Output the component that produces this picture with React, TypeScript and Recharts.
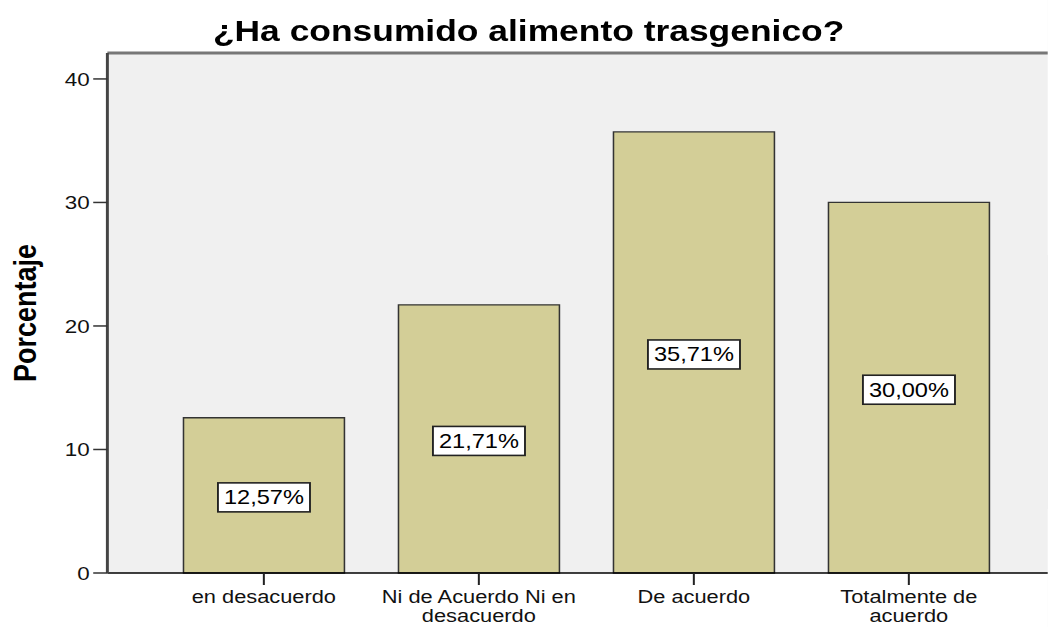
import React from 'react';
import { Bar, BarChart, CartesianGrid, LabelList, XAxis, YAxis } from 'recharts';

const categories = ['en desacuerdo', 'Ni de Acuerdo Ni en desacuerdo', 'De acuerdo', 'Totalmente de acuerdo'];
const tickLines = [['en desacuerdo'], ['Ni de Acuerdo Ni en', 'desacuerdo'], ['De acuerdo'], ['Totalmente de', 'acuerdo']];
const percentages = [12.57, 21.71, 35.71, 30.0];
const yTicks = [0, 10, 20, 30, 40];

const data = categories.map((name, i) => ({ name, value: percentages[i] }));

// the reference is stretched sideways, so draw narrower and scale the whole thing
const STRETCH = 1.18;
const W = 888;
const H = 627;
const FONT = '"Liberation Sans", Arial, sans-serif';

const CategoryTick = (props: any) => {
    const { x, y, payload } = props;
    const lines = tickLines[categories.indexOf(payload.value)] || [payload.value];
    return (
        <text x={x} y={y} textAnchor="middle" fontSize={18.5} fontFamily={FONT} fill="#111">
            {lines.map((l: string, i: number) => (
                <tspan key={i} x={x} dy={i === 0 ? 16 : 19}>{l}</tspan>
            ))}
        </text>
    );
};

const ValueBox = (props: any) => {
    const { x, y, width, height, value } = props;
    const cx = Number(x) + Number(width) / 2;
    const cy = Number(y) + Number(height) / 2 + 2;
    const bw = 78;
    const bh = 29;
    const txt = Number(value).toFixed(2).replace('.', ',') + '%';
    return (
        <g>
            <rect x={cx - bw / 2} y={cy - bh / 2} width={bw} height={bh} fill="#fff" stroke="#222" strokeWidth={1.6} />
            <text x={cx} y={cy + 7} textAnchor="middle" fontSize={20} fontFamily={FONT} fill="#000">{txt}</text>
        </g>
    );
};

const App = () => {
    return (
        <div style={{ position: 'absolute', left: 0, top: 0, width: W, height: H, background: '#fff',
            transform: `scaleX(${STRETCH})`, transformOrigin: '0 0', fontFamily: FONT }}>
            <BarChart width={W} height={H} data={data} margin={{ top: 52, right: 0, bottom: 0, left: 0 }} barSize={136.4}>
                <CartesianGrid stroke="none" fill="#F0F0F0" />
                <XAxis xAxisId="top" orientation="top" dataKey="name" height={1} tick={false} tickLine={false}
                    axisLine={{ stroke: '#777', strokeWidth: 3 }} />
                <XAxis dataKey="name" height={54} padding={{ left: 41.5, right: 26.7 }} interval={0}
                    axisLine={{ stroke: '#000', strokeWidth: 1.5 }} tickLine={{ stroke: '#222', strokeWidth: 1.7 }}
                    tickSize={12} tickMargin={2} tick={<CategoryTick />} />
                <YAxis domain={[0, 42.1]} ticks={yTicks} width={91} tickSize={12} tickMargin={3}
                    axisLine={{ stroke: '#444', strokeWidth: 2.5 }} tickLine={{ stroke: '#333', strokeWidth: 1.5 }}
                    tick={{ fontSize: 19, fill: '#111', fontFamily: FONT }}
                    label={{ value: 'Porcentaje', angle: -90, position: 'insideLeft', offset: 21,
                        style: { textAnchor: 'middle', fontSize: 27, fontWeight: 'bold', fill: '#000', fontFamily: FONT } }} />
                <Bar dataKey="value" fill="#D3CE97" stroke="#333" strokeWidth={1.3} isAnimationActive={false}>
                    <LabelList dataKey="value" content={<ValueBox />} />
                </Bar>
            </BarChart>
            <div style={{ position: 'absolute', left: 4, top: 16, width: W, textAlign: 'center', fontSize: 30,
                lineHeight: '30px', fontWeight: 'bold', color: '#000' }}>
                ¿Ha consumido alimento trasgenico?
            </div>
        </div>
    );
};

export default App;
